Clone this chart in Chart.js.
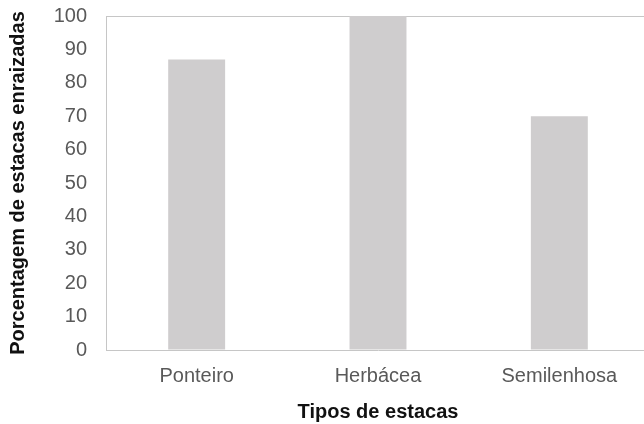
<!DOCTYPE html>
<html>
<head>
<meta charset="utf-8">
<script src="https://cdn.jsdelivr.net/npm/chart.js@4"></script>
<style>
  html, body { margin: 0; padding: 0; background: #fff; overflow: hidden; }
  #wrap { width: 650px; height: 424px; position: relative; }
</style>
</head>
<body>
<div id="wrap"><canvas id="c"></canvas></div>
<script>
const categories = ["Ponteiro", "Herbácea", "Semilenhosa"];
const values = [87, 100, 70];
const yTicks = [0, 10, 20, 30, 40, 50, 60, 70, 80, 90, 100];
const yTitle = "Porcentagem de estacas enraizadas";
const xTitle = "Tipos de estacas";

const FONT = "'Liberation Sans', Arial, sans-serif";
const AXIS = "#c6c6c6";

new Chart(document.getElementById("c"), {
  type: "bar",
  data: {
    labels: categories,
    datasets: [{
      data: values,
      backgroundColor: "#cfcdce",
      borderWidth: 0,
      barPercentage: 0.314,
      categoryPercentage: 1.0
    }]
  },
  options: {
    responsive: true,
    maintainAspectRatio: false,
    animation: false,
    events: [],
    layout: { padding: { left: 2, top: 0, right: 0, bottom: 0 } },
    plugins: { legend: { display: false }, tooltip: { enabled: false } },
    scales: {
      x: {
        grid: { display: false, drawTicks: false },
        border: { display: true, color: AXIS, width: 1 },
        ticks: {
          color: "#595959",
          font: { family: FONT, size: 20 },
          padding: 14,
          maxRotation: 0
        },
        title: {
          display: true,
          text: xTitle,
          color: "#111",
          font: { family: FONT, size: 20, weight: "bold" },
          padding: { top: 0, bottom: 0 }
        },
        afterFit: (s) => { s.height = 74; s.paddingLeft = 0; s.paddingRight = 0; }
      },
      y: {
        min: 0,
        max: 100,
        afterBuildTicks: (s) => { s.ticks = yTicks.map(v => ({ value: v })); },
        grid: {
          drawTicks: false,
          color: (ctx) => (ctx.tick && ctx.tick.value === 100 ? AXIS : "rgba(0,0,0,0)")
        },
        border: { display: true, color: AXIS, width: 1 },
        ticks: {
          color: "#595959",
          font: { family: FONT, size: 20 },
          padding: 19
        },
        title: {
          display: true,
          text: yTitle,
          color: "#111",
          font: { family: FONT, size: 20, weight: "bold" },
          padding: { top: 4, bottom: 4 }
        },
        afterFit: (s) => { s.width = 104; s.paddingTop = 16; s.paddingBottom = 0; }
      }
    }
  }
});
</script>
</body>
</html>
